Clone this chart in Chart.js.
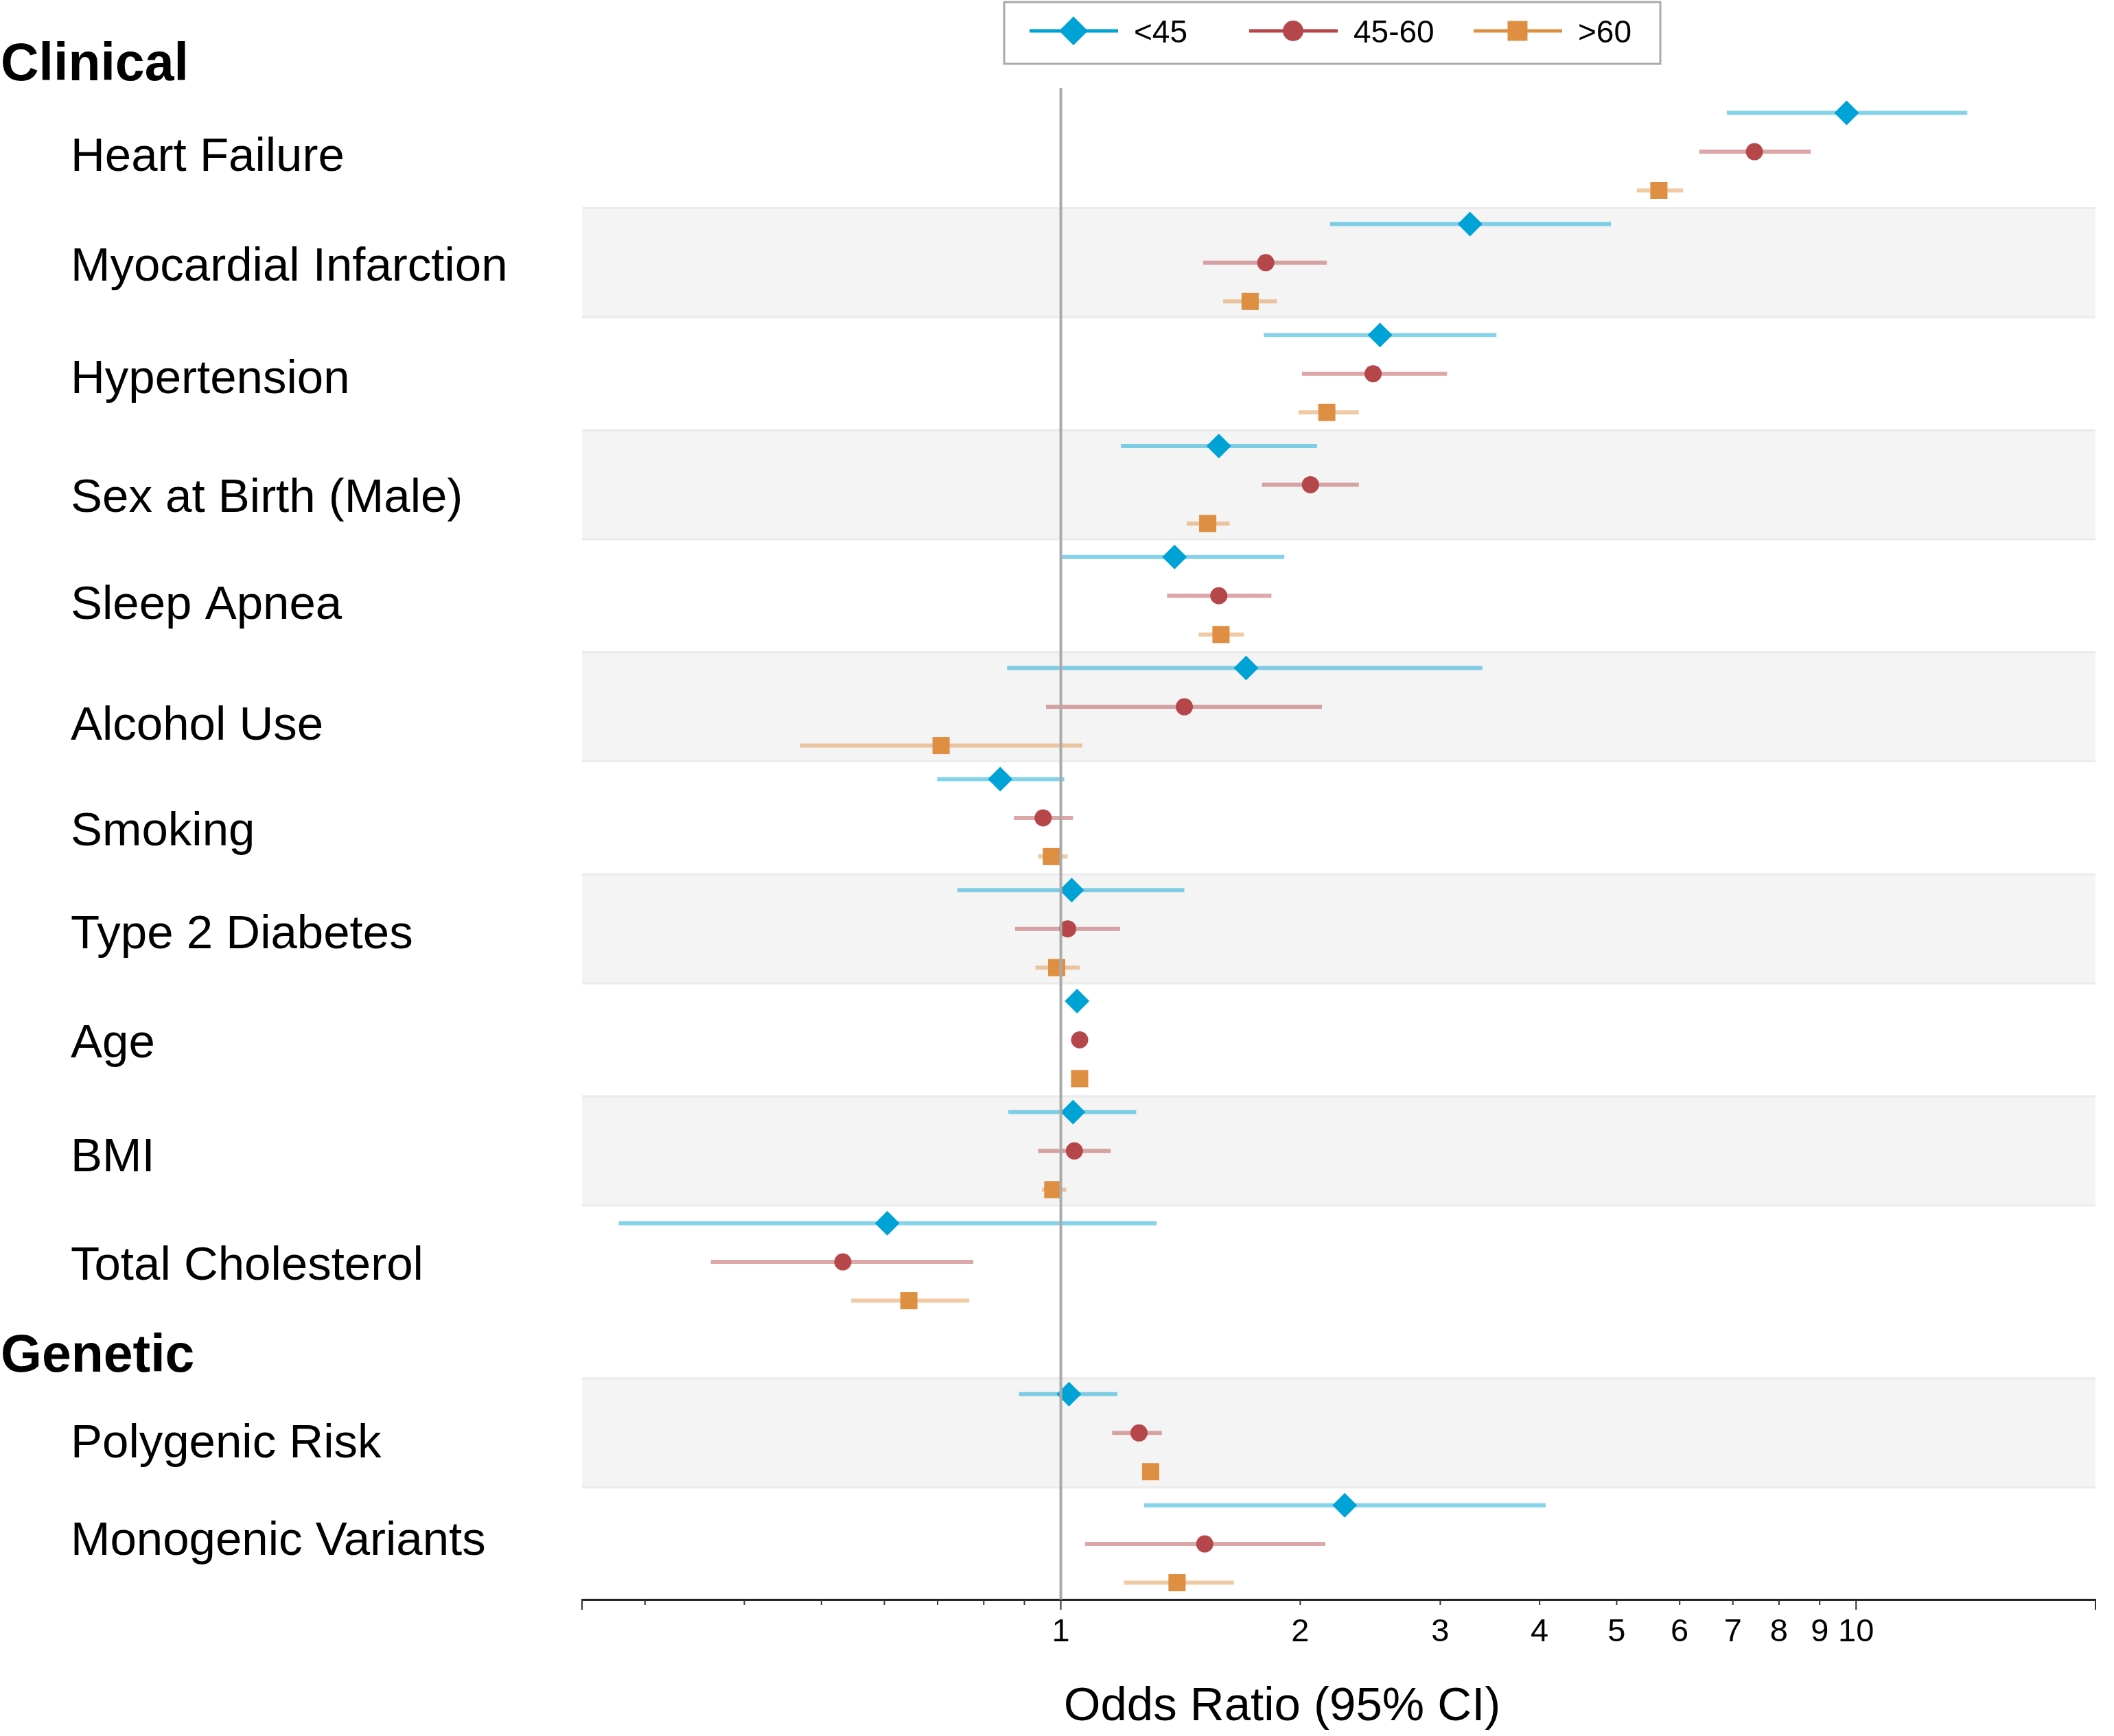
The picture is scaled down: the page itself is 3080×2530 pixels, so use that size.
<!DOCTYPE html>
<html>
<head>
<meta charset="utf-8">
<script src="https://cdn.jsdelivr.net/npm/chart.js@4.4.1/dist/chart.umd.min.js"></script>
<style>
html,body{margin:0;padding:0;background:#ffffff;}
canvas{display:block;}
</style>
</head>
<body>
<canvas id="c" width="3080" height="2530"></canvas>
<script>
// ---------------- data ----------------
const categories = ['Heart Failure','Myocardial Infarction','Hypertension','Sex at Birth (Male)','Sleep Apnea','Alcohol Use','Smoking','Type 2 Diabetes','Age','BMI','Total Cholesterol','Polygenic Risk','Monogenic Variants'];
const categoryGroups = ['Clinical','Clinical','Clinical','Clinical','Clinical','Clinical','Clinical','Clinical','Clinical','Clinical','Clinical','Genetic','Genetic'];
const seriesNames = ['<45','45-60','>60'];

const orYoung = [9.73, 3.27, 2.52, 1.58, 1.39, 1.71, 0.839, 1.032, 1.048, 1.036, 0.605, 1.024, 2.275];
const loYoung = [6.88, 2.18, 1.80, 1.19, 1.00, 0.856, 0.699, 0.741, 1.044, 0.859, 0.278, 0.886, 1.273];
const hiYoung = [13.80, 4.92, 3.53, 2.10, 1.91, 3.39, 1.010, 1.43, 1.052, 1.244, 1.32, 1.178, 4.07];

const orMid = [7.45, 1.81, 2.47, 2.06, 1.58, 1.43, 0.950, 1.020, 1.056, 1.040, 0.532, 1.254, 1.517];
const loMid = [6.35, 1.51, 2.01, 1.79, 1.36, 0.958, 0.873, 0.876, 1.052, 0.936, 0.363, 1.160, 1.073];
const hiMid = [8.77, 2.16, 3.06, 2.37, 1.84, 2.13, 1.036, 1.187, 1.060, 1.155, 0.776, 1.340, 2.15];

const orOld = [5.65, 1.73, 2.16, 1.53, 1.59, 0.707, 0.973, 0.988, 1.056, 0.977, 0.644, 1.297, 1.40];
const loOld = [5.30, 1.60, 1.99, 1.44, 1.49, 0.470, 0.936, 0.929, 1.052, 0.947, 0.545, 1.290, 1.20];
const hiOld = [6.06, 1.87, 2.37, 1.63, 1.70, 1.064, 1.020, 1.056, 1.060, 1.016, 0.767, 1.304, 1.65];

const xTickValues = [0.25,0.3,0.4,0.5,0.6,0.7,0.8,0.9,1,2,3,4,5,6,7,8,9,10,20];
const xTickLabels = ['1','2','3','4','5','6','7','8','9','10'];
const xLongTicks = [0.25,1,10,20];
const xTitle = 'Odds Ratio (95% CI)';

// ---------------- styling / layout ----------------
const FONT = "'Liberation Sans', Arial, sans-serif";
const seriesColors = ['#00a3d6', '#b5474a', '#df8f42'];
const ciColors = ['rgba(0,163,214,0.48)', 'rgba(181,71,74,0.48)', 'rgba(223,143,66,0.48)'];
const markerStyles = ['rectRot', 'circle', 'rect'];
const markerRadius = [18, 12.5, 17.7];
const subOffsets = [-0.349, 0, 0.349];
// small vertical nudges (px) of the left-hand labels, as typeset in the original
const labelNudge = [0, -2, 0, 12, 6, 20, 12, 0, -2, 2, -2, 8, -12];

const seriesOR = [orYoung, orMid, orOld];
const seriesLo = [loYoung, loMid, loOld];
const seriesHi = [hiYoung, hiMid, hiOld];

// row positions (row units), with space for group headers
const HEADER_ABOVE = 0.81, HEADER_BELOW = 0.82, HEADER_TO_ROW = 0.72;
const rowPos = [];
const headers = [];
categories.forEach((c, i) => {
  const g = categoryGroups[i];
  if (i === 0) {
    rowPos.push(0);
    headers.push({name: g, pos: -HEADER_ABOVE});
  } else if (g !== categoryGroups[i - 1]) {
    const h = rowPos[i - 1] + HEADER_BELOW;
    headers.push({name: g, pos: h});
    rowPos.push(h + HEADER_TO_ROW);
  } else {
    rowPos.push(rowPos[i - 1] + 1);
  }
});

// ---------------- datasets ----------------
const datasets = [];
seriesNames.forEach((name, s) => {
  const ciData = [];
  categories.forEach((c, i) => {
    const yy = rowPos[i] + subOffsets[s];
    ciData.push({x: seriesLo[s][i], y: yy});
    ciData.push({x: seriesHi[s][i], y: yy});
    ciData.push({x: null, y: null});
  });
  datasets.push({
    label: name + ' CI',
    data: ciData,
    showLine: true,
    spanGaps: false,
    borderColor: ciColors[s],
    borderWidth: 6,
    borderCapStyle: 'butt',
    pointRadius: 0,
    pointHoverRadius: 0,
    order: 3
  });
});
seriesNames.forEach((name, s) => {
  datasets.push({
    label: name,
    data: categories.map((c, i) => ({x: seriesOR[s][i], y: rowPos[i] + subOffsets[s]})),
    showLine: false,
    pointStyle: markerStyles[s],
    pointRadius: markerRadius[s],
    pointHoverRadius: markerRadius[s],
    pointBackgroundColor: seriesColors[s],
    pointBorderWidth: 0,
    backgroundColor: seriesColors[s],
    borderColor: seriesColors[s],
    order: 1
  });
});

// ---------------- plugin: bands, reference line, labels, legend ----------------
function drawMarker(ctx, style, x, y, r, color) {
  ctx.fillStyle = color;
  ctx.beginPath();
  if (style === 'rectRot') {
    ctx.moveTo(x - r, y); ctx.lineTo(x, y - r); ctx.lineTo(x + r, y); ctx.lineTo(x, y + r);
    ctx.closePath();
  } else if (style === 'circle') {
    ctx.arc(x, y, r, 0, Math.PI * 2);
  } else {
    ctx.rect(x - r, y - r, 2 * r, 2 * r);
  }
  ctx.fill();
}

const forestPlugin = {
  id: 'forest',
  beforeDatasetsDraw(chart) {
    const {ctx, chartArea: a, scales: {y}} = chart;
    ctx.save();
    rowPos.forEach((p, i) => {
      if (i % 2 === 1) {
        const t = y.getPixelForValue(p - 0.5), b = y.getPixelForValue(p + 0.5);
        ctx.fillStyle = '#f4f4f4';
        ctx.fillRect(a.left, t, a.right - a.left, b - t);
        ctx.fillStyle = '#ebebeb';
        ctx.fillRect(a.left, t, a.right - a.left, 3);
        ctx.fillRect(a.left, b - 3, a.right - a.left, 3);
      }
    });
    ctx.restore();
  },
  afterDatasetsDraw(chart) {
    const {ctx, chartArea: a, scales: {x}} = chart;
    const px = x.getPixelForValue(1);
    ctx.save();
    ctx.fillStyle = '#aaaaaa';
    ctx.fillRect(px - 2, a.top, 4, a.bottom - a.top);
    ctx.restore();
  },
  afterDraw(chart) {
    const {ctx, chartArea: a, scales: {x, y}} = chart;
    ctx.save();
    // tick marks
    ctx.fillStyle = '#333333';
    x.ticks.forEach(t => {
      const px = x.getPixelForValue(t.value);
      const long = xLongTicks.some(v => Math.abs(v - t.value) < 1e-9);
      ctx.fillRect(px - 1, a.bottom, 2, long ? 15 : 8);
    });
    // category labels
    ctx.fillStyle = '#000000';
    ctx.textAlign = 'left';
    ctx.textBaseline = 'alphabetic';
    ctx.font = '69px ' + FONT;
    categories.forEach((c, i) => {
      ctx.fillText(c, 103, y.getPixelForValue(rowPos[i]) + 28 + labelNudge[i]);
    });
    ctx.font = 'bold 77px ' + FONT;
    headers.forEach(h => {
      ctx.fillText(h.name, 1, y.getPixelForValue(h.pos) + 27);
    });
    // axis title
    ctx.font = '69px ' + FONT;
    ctx.textAlign = 'center';
    ctx.fillText(xTitle, 1868, 2507);
    // legend
    ctx.fillStyle = '#ffffff';
    ctx.fillRect(1463, 3, 956, 90);
    ctx.strokeStyle = '#aaaaaa';
    ctx.lineWidth = 3;
    ctx.strokeRect(1463, 3, 956, 90);
    const starts = [1500, 1820, 2147];
    const legR = [21, 15, 14.5];
    ctx.font = '46px ' + FONT;
    ctx.textAlign = 'left';
    seriesNames.forEach((n, s) => {
      const lx = starts[s], ly = 45;
      ctx.fillStyle = seriesColors[s];
      ctx.fillRect(lx, ly - 2.5, 129, 5);
      drawMarker(ctx, markerStyles[s], lx + 64, ly, legR[s], seriesColors[s]);
      ctx.fillStyle = '#000000';
      ctx.fillText(n, lx + 152, 62);
    });
    ctx.restore();
  }
};

new Chart(document.getElementById('c'), {
  type: 'scatter',
  data: {datasets},
  plugins: [forestPlugin],
  options: {
    responsive: false,
    devicePixelRatio: 1,
    animation: false,
    events: [],
    layout: {padding: {left: 848, right: 27, top: 128, bottom: 0}},
    plugins: {legend: {display: false}, tooltip: {enabled: false}, title: {display: false}},
    scales: {
      x: {
        type: 'logarithmic',
        min: 0.25,
        max: 20,
        bounds: 'data',
        afterBuildTicks(scale) { scale.ticks = xTickValues.map(v => ({value: v})); },
        afterFit(scale) { scale.height = 199; },
        grid: {display: true, drawOnChartArea: false, drawTicks: false},
        border: {display: true, color: '#222222', width: 3},
        ticks: {
          autoSkip: false,
          maxRotation: 0,
          minRotation: 0,
          padding: 20,
          color: '#000000',
          font: {family: FONT, size: 47},
          callback(v) {
            const r = Math.round(v);
            return (Math.abs(v - r) < 1e-9 && xTickLabels.includes(String(r))) ? String(r) : '';
          }
        },
        title: {display: false}
      },
      y: {
        type: 'linear',
        display: false,
        reverse: true,
        min: -0.575,
        max: 13.04,
        bounds: 'data'
      }
    }
  }
});
</script>
</body>
</html>
